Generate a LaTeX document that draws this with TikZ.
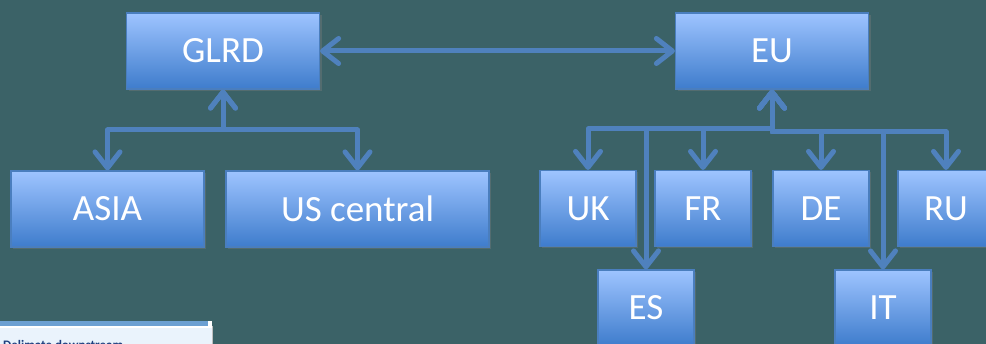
\documentclass[tikz,border=0pt]{standalone}
\usepackage{fontspec}
\setmainfont{Carlito}
\usetikzlibrary{arrows.meta,shadows}
\definecolor{bg}{RGB}{59,98,103}
\definecolor{boxtop}{RGB}{158,196,255}
\definecolor{boxbot}{RGB}{62,124,204}
\definecolor{boxline}{RGB}{74,126,190}
\definecolor{arrowblue}{RGB}{79,129,189}
\definecolor{winbar}{RGB}{108,160,210}
\definecolor{winpanel}{RGB}{234,243,252}
\definecolor{wintext}{RGB}{31,63,127}

\begin{document}
\begin{tikzpicture}[x=1pt, y=-1pt,
      region/.style={rectangle, draw=boxline, line width=1.2pt, top color=boxtop, bottom color=boxbot,
        minimum width=193pt, minimum height=76pt, text=white, font=\fontsize{37}{42}\selectfont,
        drop shadow={opacity=0.35, shadow xshift=2pt, shadow yshift=-2pt}},
      country/.style={region, minimum width=96pt},
      link/.style={draw=arrowblue, line width=5pt, line join=round,
        {Straight Barb[round, length=16pt, width=25pt]}-{Straight Barb[round, length=16pt, width=25pt]}}]
      \clip (0,0) rectangle (986,344);
      \fill[bg] (0,0) rectangle (986,344);
      % corner of a screenshot at the bottom left
      \fill[winbar] (0,321) rectangle (208,326);
      \fill[white] (208,321) rectangle (212,326);
      \fill[white] (0,326) rectangle (212,328);
      \fill[winpanel] (0,328) rectangle (212,344);
      \draw[gray!50, line width=1pt] (212.5,326) -- (212.5,344);
      \node[anchor=base west, inner sep=0pt, text=wintext, font=\fontsize{13}{15}\selectfont\bfseries] (caption) at (3,350) {Delimate downstream};
      % boxes
      \node[region](glrd) at (223, 51){GLRD};
      \node[region](eu) at (772, 51){EU};
      \node[region](asia) at (107.5, 209){ASIA};
      \node[region, minimum width=263pt](us) at (357.5, 209){US central};
      \node[country](uk) at (588, 208.5){UK};
      \node[country](fr) at (703, 208.5){FR};
      \node[country](de) at (821, 208.5){DE};
      \node[country](ru) at (946, 208.5){RU};
      \node[country](es) at (646, 308){ES};
      \node[country](it) at (883, 308){IT};
      \coordinate(gbus) at (223, 130);
      \coordinate(ebusl) at (772, 129);
      \coordinate(ebusr) at (772, 132);
      % connectors
      \draw[link] (glrd) -- (eu);
      \draw[link] (glrd.south) -- (gbus) -| (asia.north);
      \draw[link] (glrd.south) -- (gbus) -| (us.north);
      \draw[link] (eu.south) -- (ebusl) -| (uk.north);
      \draw[link] (eu.south) -- (ebusl) -| (es.north);
      \draw[link] (eu.south) -- (ebusl) -| (fr.north);
      \draw[link] (eu.south) -- (ebusr) -| (de.north);
      \draw[link] (eu.south) -- (ebusr) -| (it.north);
      \draw[link] (eu.south) -- (ebusr) -| (ru.north);
    \end{tikzpicture}
\end{document}
